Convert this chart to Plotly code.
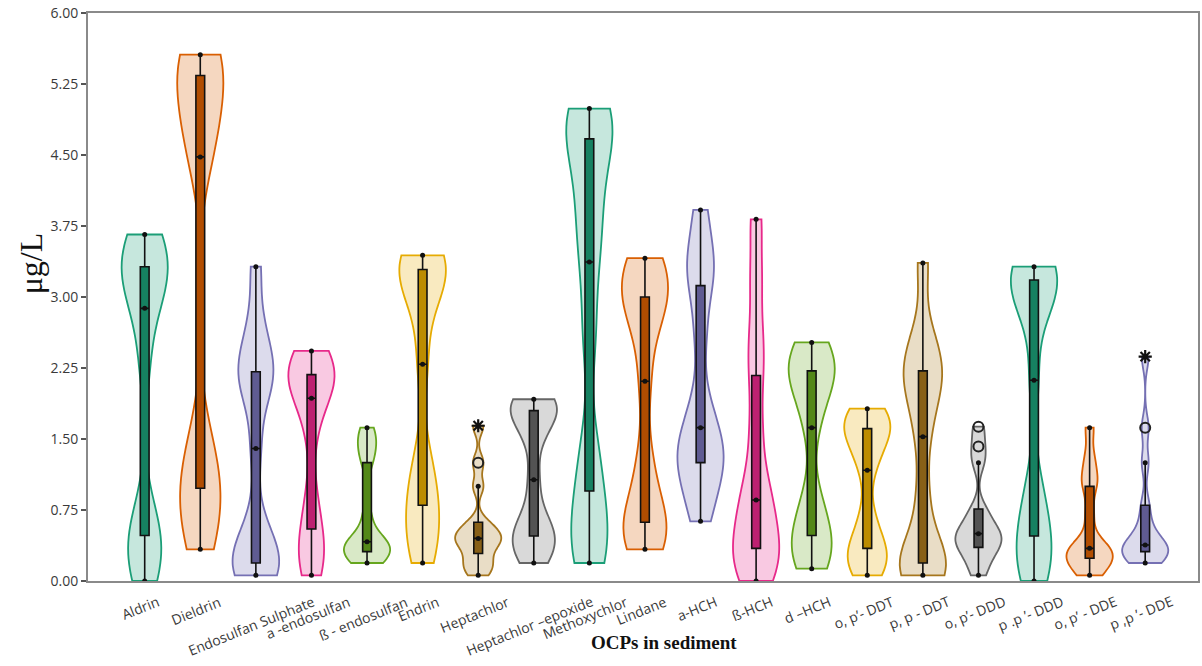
import numpy as np
import plotly.graph_objects as go

# OCP concentrations in sediment (ug/L), one sample list per compound
categories = [
    "Aldrin", "Dieldrin", "Endosulfan Sulphate", "a -endosulfan", "\u00df - endosulfan",
    "Endrin", "Heptachlor", "Heptachlor \u2013epoxide", "Methoxychlor", "Lindane",
    "a-HCH", "\u00df-HCH", "d \u2013HCH", "o, p\u2019- DDT", "p, p - DDT",
    "o, p\u2019- DDD", "p .p \u2019- DDD", "o, p\u2019 - DDE", "p ,p \u2019- DDE",
]

aldrin = [0.0, 0.2, 0.35, 0.48, 0.75, 2.3, 2.88, 3.05, 3.2, 3.32, 3.45, 3.55, 3.66]
dieldrin = [0.335, 0.6, 0.8, 0.98, 1.2, 1.5, 4.48, 4.7, 4.95, 5.34, 5.42, 5.5, 5.56]
endosulfan_sulphate = [0.06, 0.12, 0.15, 0.19, 0.35, 0.6, 1.40, 2.0, 2.15, 2.21, 2.4, 2.7, 3.32]
a_endosulfan = [0.06, 0.2, 0.4, 0.55, 0.9, 1.6, 1.93, 2.05, 2.12, 2.18, 2.25, 2.35, 2.43]
b_endosulfan = [0.19, 0.22, 0.28, 0.31, 0.35, 0.39, 0.415, 0.45, 0.7, 1.25, 1.4, 1.5, 1.62]
endrin = [0.19, 0.4, 0.6, 0.80, 1.0, 1.3, 2.29, 2.9, 3.15, 3.29, 3.35, 3.4, 3.44]
heptachlor = [0.06, 0.14, 0.2, 0.29, 0.38, 0.42, 0.45, 0.5, 0.55, 0.62, 1.0, 1.25, 1.64]
heptachlor_epoxide = [0.19, 0.3, 0.4, 0.475, 0.55, 0.7, 1.07, 1.5, 1.7, 1.80, 1.85, 1.88, 1.92]
methoxychlor = [0.19, 0.35, 0.6, 0.95, 1.4, 2.6, 3.37, 3.8, 4.2, 4.67, 4.8, 4.9, 4.99]
lindane = [0.335, 0.45, 0.55, 0.62, 0.9, 1.3, 2.11, 2.7, 2.9, 3.0, 3.2, 3.3, 3.41]
a_hch = [0.63, 0.9, 1.1, 1.25, 1.35, 1.45, 1.62, 1.9, 2.6, 3.12, 3.3, 3.5, 3.92]
b_hch = [0.0, 0.1, 0.25, 0.345, 0.5, 0.7, 0.855, 1.1, 1.6, 2.17, 2.6, 3.2, 3.82]
d_hch = [0.13, 0.25, 0.35, 0.48, 0.65, 0.9, 1.62, 1.95, 2.1, 2.22, 2.3, 2.4, 2.52]
op_ddt = [0.06, 0.15, 0.25, 0.345, 0.45, 0.7, 1.17, 1.4, 1.5, 1.61, 1.68, 1.75, 1.82]
pp_ddt = [0.06, 0.1, 0.15, 0.19, 0.4, 0.9, 1.525, 1.9, 2.1, 2.22, 2.35, 2.6, 3.36]
op_ddd = [0.06, 0.2, 0.3, 0.355, 0.42, 0.46, 0.50, 0.55, 0.65, 0.76, 1.25, 1.42, 1.63]
pp_ddd = [0.0, 0.15, 0.3, 0.475, 0.7, 1.0, 2.12, 2.9, 3.05, 3.18, 3.24, 3.28, 3.32]
op_dde = [0.06, 0.12, 0.2, 0.24, 0.28, 0.31, 0.345, 0.4, 0.7, 1.0, 1.1, 1.3, 1.62]
pp_dde = [0.19, 0.22, 0.28, 0.31, 0.33, 0.36, 0.38, 0.45, 0.6, 0.80, 1.25, 1.62, 2.37]

samples = [
    aldrin, dieldrin, endosulfan_sulphate, a_endosulfan, b_endosulfan, endrin,
    heptachlor, heptachlor_epoxide, methoxychlor, lindane, a_hch, b_hch, d_hch,
    op_ddt, pp_ddt, op_ddd, pp_ddd, op_dde, pp_dde,
]

# KDE bandwidth per compound
bandwidths = [0.36, 0.45, 0.3, 0.28, 0.13, 0.33, 0.09, 0.2, 0.42, 0.33, 0.3, 0.3, 0.28,
              0.2, 0.3, 0.12, 0.35, 0.13, 0.13]

palette = ["#1b9e77", "#d95f02", "#7570b3", "#e7298a", "#66a61e", "#e6ab02", "#a6761d", "#666666"]

y_ticks = [0.0, 0.75, 1.5, 2.25, 3.0, 3.75, 4.5, 5.25, 6.0]


def rgba(hex_color, alpha):
    h = hex_color.lstrip("#")
    r, g, b = int(h[0:2], 16), int(h[2:4], 16), int(h[4:6], 16)
    return f"rgba({r},{g},{b},{alpha})"


def darker(hex_color, f=0.8):
    h = hex_color.lstrip("#")
    r, g, b = (int(h[i:i + 2], 16) for i in (0, 2, 4))
    return f"rgb({int(r * f)},{int(g * f)},{int(b * f)})"


fig = go.Figure()

med_x, med_y, cap_x, cap_y = [], [], [], []
out_x, out_y, ext_x, ext_y = [], [], [], []

for i, (name, vals) in enumerate(zip(categories, samples)):
    col = palette[i % len(palette)]
    fig.add_trace(go.Violin(
        x=[name] * len(vals), y=vals, name=name,
        spanmode="hard", bandwidth=bandwidths[i], width=0.83, scalemode="width",
        quartilemethod="inclusive",
        line=dict(color=col, width=1.8), fillcolor=rgba(col, 0.25),
        box=dict(visible=True, width=0.19, fillcolor=darker(col, 0.82),
                 line=dict(color="#111111", width=1.6)),
        meanline=dict(visible=False), points=False, showlegend=False,
        hoverinfo="skip",
    ))
    a = np.sort(np.array(vals))
    q1, med, q3 = np.percentile(a, [25, 50, 75])
    iqr = q3 - q1
    inner = a[(a >= q1 - 1.5 * iqr) & (a <= q3 + 1.5 * iqr)]
    med_x.append(name); med_y.append(med)
    cap_x += [name, name]; cap_y += [inner.min(), inner.max()]
    for v in a:
        if v > q3 + 3 * iqr or v < q1 - 3 * iqr:
            ext_x.append(name); ext_y.append(v)
        elif v > q3 + 1.5 * iqr or v < q1 - 1.5 * iqr:
            out_x.append(name); out_y.append(v)

fig.add_trace(go.Scatter(x=med_x + cap_x, y=med_y + cap_y, mode="markers",
                         marker=dict(color="#111111", size=5), showlegend=False, hoverinfo="skip"))
fig.add_trace(go.Scatter(x=out_x, y=out_y, mode="markers",
                         marker=dict(symbol="circle-open", size=10, color="#222222",
                                     line=dict(width=2, color="#222222")),
                         showlegend=False, hoverinfo="skip"))
fig.add_trace(go.Scatter(x=ext_x, y=ext_y, mode="markers",
                         marker=dict(symbol="asterisk-open", size=11, color="#111111",
                                     line=dict(width=2.2, color="#111111")),
                         showlegend=False, hoverinfo="skip"))

# rotated category labels, centred under each violin
for name in categories:
    fig.add_annotation(x=name, y=0, xref="x", yref="paper", yanchor="top", xanchor="center",
                       yshift=-8, xshift=-4, text=name, textangle=-22, showarrow=False,
                       font=dict(family="Open Sans", size=14, color="#3a3a3a"))

fig.add_annotation(x=-0.051, y=0.56, xref="paper", yref="paper", text="\u03bcg/L",
                   textangle=-90, showarrow=False, xanchor="center", yanchor="middle",
                   font=dict(family="Liberation Serif", size=32, color="#111111"))
fig.add_annotation(x=0.519, y=-0.108, xref="paper", yref="paper", text="<b>OCPs in sediment</b>",
                   showarrow=False, xanchor="center", yanchor="middle",
                   font=dict(family="Liberation Serif", size=19, color="#111111"))

fig.update_layout(
    width=1202, height=666,
    margin=dict(l=88, r=2, t=13, b=85),
    plot_bgcolor="white", paper_bgcolor="white",
    violinmode="overlay",
)
fig.update_xaxes(type="category", categoryorder="array", categoryarray=categories,
                 range=[-1.02, 18.95], showticklabels=False, ticks="",
                 showgrid=False, zeroline=False,
                 showline=True, linecolor="#8a8a8a", linewidth=2, mirror=True)
fig.update_yaxes(range=[0, 6], tickvals=y_ticks, tickformat=".2f",
                 ticks="outside", ticklen=5, tickcolor="#555555", tickwidth=1.5,
                 tickfont=dict(family="Open Sans", size=14, color="#3a3a3a"),
                 showgrid=False, zeroline=False,
                 showline=True, linecolor="#8a8a8a", linewidth=2, mirror=True)

fig.write_html("out.html")
